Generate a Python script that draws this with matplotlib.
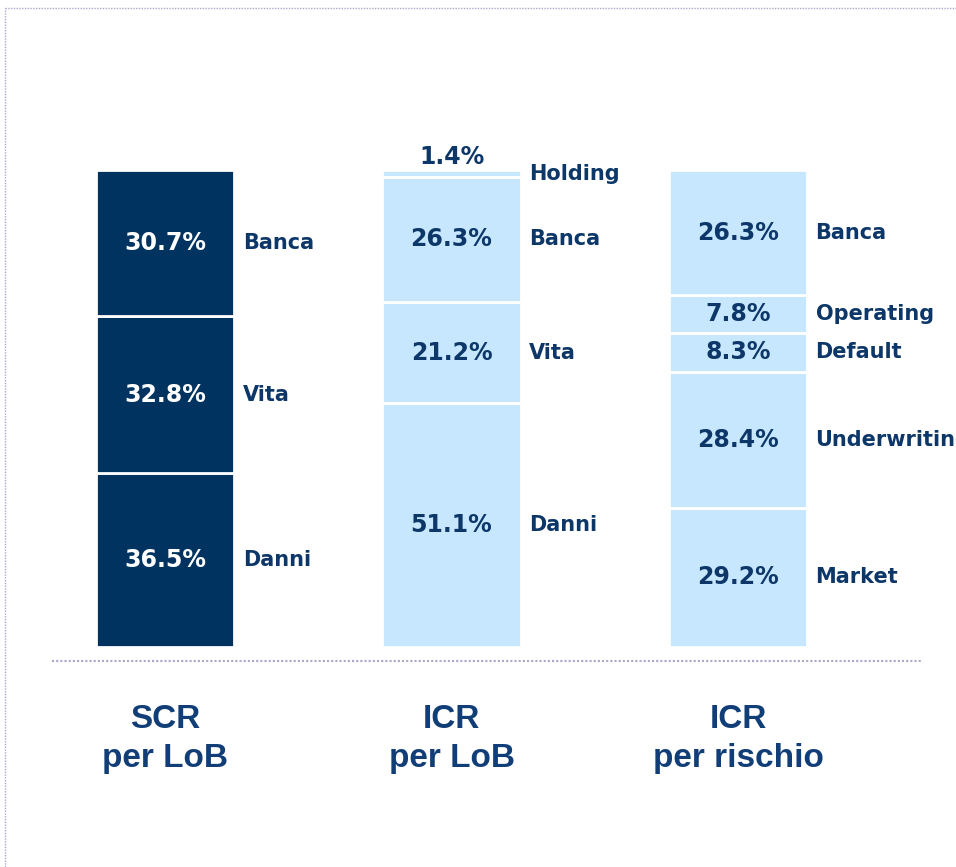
import matplotlib
matplotlib.use("Agg")
import matplotlib.pyplot as plt
from matplotlib.lines import Line2D

# data
groups = ["SCR\nper LoB", "ICR\nper LoB", "ICR\nper rischio"]
scr_labels = ["Danni", "Vita", "Banca"]
scr_values = [36.5, 32.8, 30.7]
icr_lob_labels = ["Danni", "Vita", "Banca", "Holding"]
icr_lob_values = [51.1, 21.2, 26.3, 1.4]
icr_risk_labels = ["Market", "Underwriting", "Default", "Operating", "Banca"]
icr_risk_values = [29.2, 28.4, 8.3, 7.8, 26.3]

dark = "#00335F"
light = "#C6E7FE"
text_col = "#0C3768"

fig = plt.figure(figsize=(9.56, 8.67), dpi=100)
ax = fig.add_axes([0, 0, 1, 1])
ax.set_xlim(-0.576, 2.761)
ax.set_ylim(-46.12, 135.64)
ax.axis("off")

width = 0.482
series = [
    (scr_labels, scr_values, dark, "white"),
    (icr_lob_labels, icr_lob_values, light, text_col),
    (icr_risk_labels, icr_risk_values, light, text_col),
]

for i, (labels, values, color, pct_col) in enumerate(series):
    bottom = 0
    for lab, v in zip(labels, values):
        ax.bar(i, v, width=width, bottom=bottom, color=color,
               edgecolor="white", linewidth=2)
        mid = bottom + v / 2
        if v < 3:
            # thin segment: labels above / to the side
            ax.text(i, bottom + v + 2.8, f"{v:.1f}%", ha="center", va="center",
                    fontsize=17, fontweight="bold", color=pct_col)
            ax.text(i + width / 2 + 0.03, bottom + v - 0.8, lab, ha="left",
                    va="center", fontsize=15, fontweight="bold", color=text_col)
        else:
            ax.text(i, mid, f"{v:.1f}%", ha="center", va="center",
                    fontsize=17, fontweight="bold", color=pct_col)
            ax.text(i + width / 2 + 0.03, mid, lab, ha="left", va="center",
                    fontsize=15, fontweight="bold", color=text_col)
        bottom += v
    ax.text(i, -19.3, groups[i], ha="center", va="center", fontsize=24,
            fontweight="bold", family="Liberation Sans", color="#123E78",
            linespacing=1.35)

# baseline
ax.hlines(-2.9, -0.394, 2.642, colors="#A8A8CC", linewidth=1.5,
          linestyles=(0, (1, 1)))

# frame lines
fig.add_artist(Line2D([5 / 956, 1], [1 - 8 / 867] * 2, color="#A8A8CC",
                      linewidth=1, linestyle=(0, (1, 1))))
fig.add_artist(Line2D([5 / 956] * 2, [0, 1 - 8 / 867], color="#A8A8CC",
                      linewidth=1, linestyle=(0, (1, 1))))

fig.savefig("out.png", dpi=100)
